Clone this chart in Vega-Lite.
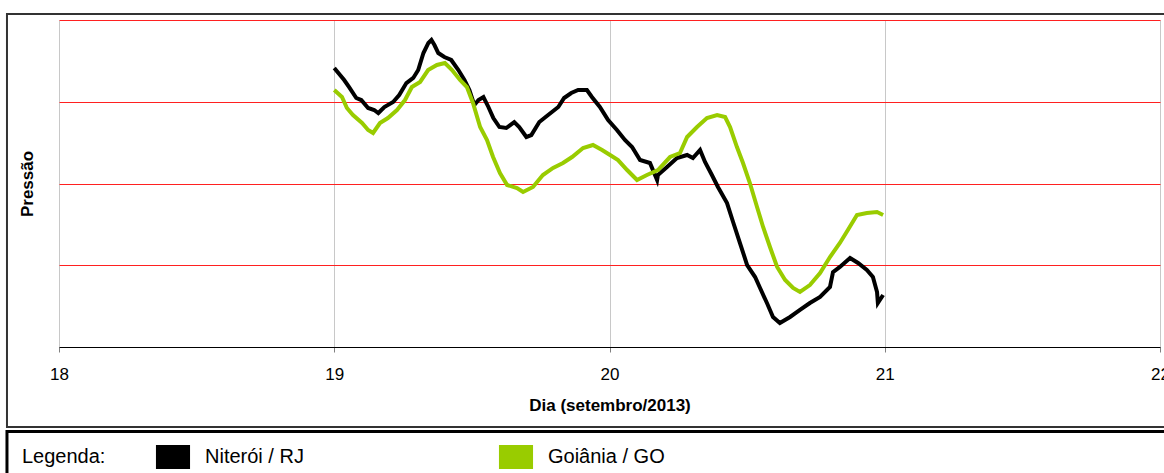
{
  "$schema": "https://vega.github.io/schema/vega-lite/v6.json",
  "width": 1101,
  "height": 327,
  "autosize": "none",
  "padding": {"left": 59, "top": 20, "right": 4, "bottom": 126},
  "background": "white",
  "config": {
    "view": {"stroke": null},
    "font": "Liberation Sans",
    "legend": {"titleFont": "Liberation Sans", "labelFont": "Liberation Sans"}
  },
  "datasets": {
    "moldura": [{"quadro": "grafico"}],
    "serie": [
      {"dia": 19.000, "pressao": 3.413, "cidade": "Niterói / RJ"},
      {"dia": 19.036, "pressao": 3.266, "cidade": "Niterói / RJ"},
      {"dia": 19.054, "pressao": 3.180, "cidade": "Niterói / RJ"},
      {"dia": 19.080, "pressao": 3.046, "cidade": "Niterói / RJ"},
      {"dia": 19.098, "pressao": 3.021, "cidade": "Niterói / RJ"},
      {"dia": 19.123, "pressao": 2.924, "cidade": "Niterói / RJ"},
      {"dia": 19.145, "pressao": 2.899, "cidade": "Niterói / RJ"},
      {"dia": 19.160, "pressao": 2.862, "cidade": "Niterói / RJ"},
      {"dia": 19.182, "pressao": 2.936, "cidade": "Niterói / RJ"},
      {"dia": 19.214, "pressao": 2.997, "cidade": "Niterói / RJ"},
      {"dia": 19.236, "pressao": 3.083, "cidade": "Niterói / RJ"},
      {"dia": 19.262, "pressao": 3.229, "cidade": "Niterói / RJ"},
      {"dia": 19.287, "pressao": 3.291, "cidade": "Niterói / RJ"},
      {"dia": 19.305, "pressao": 3.388, "cidade": "Niterói / RJ"},
      {"dia": 19.324, "pressao": 3.596, "cidade": "Niterói / RJ"},
      {"dia": 19.342, "pressao": 3.719, "cidade": "Niterói / RJ"},
      {"dia": 19.353, "pressao": 3.755, "cidade": "Niterói / RJ"},
      {"dia": 19.364, "pressao": 3.694, "cidade": "Niterói / RJ"},
      {"dia": 19.378, "pressao": 3.596, "cidade": "Niterói / RJ"},
      {"dia": 19.400, "pressao": 3.547, "cidade": "Niterói / RJ"},
      {"dia": 19.425, "pressao": 3.511, "cidade": "Niterói / RJ"},
      {"dia": 19.451, "pressao": 3.388, "cidade": "Niterói / RJ"},
      {"dia": 19.473, "pressao": 3.266, "cidade": "Niterói / RJ"},
      {"dia": 19.491, "pressao": 3.144, "cidade": "Niterói / RJ"},
      {"dia": 19.509, "pressao": 2.960, "cidade": "Niterói / RJ"},
      {"dia": 19.524, "pressao": 3.021, "cidade": "Niterói / RJ"},
      {"dia": 19.542, "pressao": 3.058, "cidade": "Niterói / RJ"},
      {"dia": 19.560, "pressao": 2.936, "cidade": "Niterói / RJ"},
      {"dia": 19.578, "pressao": 2.801, "cidade": "Niterói / RJ"},
      {"dia": 19.600, "pressao": 2.691, "cidade": "Niterói / RJ"},
      {"dia": 19.625, "pressao": 2.679, "cidade": "Niterói / RJ"},
      {"dia": 19.654, "pressao": 2.752, "cidade": "Niterói / RJ"},
      {"dia": 19.672, "pressao": 2.691, "cidade": "Niterói / RJ"},
      {"dia": 19.698, "pressao": 2.569, "cidade": "Niterói / RJ"},
      {"dia": 19.716, "pressao": 2.593, "cidade": "Niterói / RJ"},
      {"dia": 19.745, "pressao": 2.752, "cidade": "Niterói / RJ"},
      {"dia": 19.777, "pressao": 2.838, "cidade": "Niterói / RJ"},
      {"dia": 19.814, "pressao": 2.936, "cidade": "Niterói / RJ"},
      {"dia": 19.835, "pressao": 3.046, "cidade": "Niterói / RJ"},
      {"dia": 19.861, "pressao": 3.107, "cidade": "Niterói / RJ"},
      {"dia": 19.886, "pressao": 3.144, "cidade": "Niterói / RJ"},
      {"dia": 19.918, "pressao": 3.144, "cidade": "Niterói / RJ"},
      {"dia": 19.936, "pressao": 3.058, "cidade": "Niterói / RJ"},
      {"dia": 19.965, "pressao": 2.936, "cidade": "Niterói / RJ"},
      {"dia": 19.995, "pressao": 2.777, "cidade": "Niterói / RJ"},
      {"dia": 20.027, "pressao": 2.654, "cidade": "Niterói / RJ"},
      {"dia": 20.056, "pressao": 2.532, "cidade": "Niterói / RJ"},
      {"dia": 20.082, "pressao": 2.446, "cidade": "Niterói / RJ"},
      {"dia": 20.111, "pressao": 2.287, "cidade": "Niterói / RJ"},
      {"dia": 20.147, "pressao": 2.251, "cidade": "Niterói / RJ"},
      {"dia": 20.173, "pressao": 2.043, "cidade": "Niterói / RJ"},
      {"dia": 20.176, "pressao": 2.104, "cidade": "Niterói / RJ"},
      {"dia": 20.209, "pressao": 2.202, "cidade": "Niterói / RJ"},
      {"dia": 20.245, "pressao": 2.312, "cidade": "Niterói / RJ"},
      {"dia": 20.282, "pressao": 2.349, "cidade": "Niterói / RJ"},
      {"dia": 20.303, "pressao": 2.312, "cidade": "Niterói / RJ"},
      {"dia": 20.329, "pressao": 2.410, "cidade": "Niterói / RJ"},
      {"dia": 20.347, "pressao": 2.263, "cidade": "Niterói / RJ"},
      {"dia": 20.372, "pressao": 2.104, "cidade": "Niterói / RJ"},
      {"dia": 20.394, "pressao": 1.957, "cidade": "Niterói / RJ"},
      {"dia": 20.427, "pressao": 1.761, "cidade": "Niterói / RJ"},
      {"dia": 20.449, "pressao": 1.529, "cidade": "Niterói / RJ"},
      {"dia": 20.474, "pressao": 1.272, "cidade": "Niterói / RJ"},
      {"dia": 20.500, "pressao": 1.003, "cidade": "Niterói / RJ"},
      {"dia": 20.529, "pressao": 0.856, "cidade": "Niterói / RJ"},
      {"dia": 20.547, "pressao": 0.722, "cidade": "Niterói / RJ"},
      {"dia": 20.572, "pressao": 0.538, "cidade": "Niterói / RJ"},
      {"dia": 20.594, "pressao": 0.367, "cidade": "Niterói / RJ"},
      {"dia": 20.619, "pressao": 0.294, "cidade": "Niterói / RJ"},
      {"dia": 20.656, "pressao": 0.367, "cidade": "Niterói / RJ"},
      {"dia": 20.692, "pressao": 0.453, "cidade": "Niterói / RJ"},
      {"dia": 20.728, "pressao": 0.538, "cidade": "Niterói / RJ"},
      {"dia": 20.765, "pressao": 0.612, "cidade": "Niterói / RJ"},
      {"dia": 20.801, "pressao": 0.734, "cidade": "Niterói / RJ"},
      {"dia": 20.812, "pressao": 0.917, "cidade": "Niterói / RJ"},
      {"dia": 20.837, "pressao": 0.979, "cidade": "Niterói / RJ"},
      {"dia": 20.874, "pressao": 1.089, "cidade": "Niterói / RJ"},
      {"dia": 20.903, "pressao": 1.028, "cidade": "Niterói / RJ"},
      {"dia": 20.935, "pressao": 0.942, "cidade": "Niterói / RJ"},
      {"dia": 20.957, "pressao": 0.856, "cidade": "Niterói / RJ"},
      {"dia": 20.972, "pressao": 0.673, "cidade": "Niterói / RJ"},
      {"dia": 20.975, "pressao": 0.538, "cidade": "Niterói / RJ"},
      {"dia": 20.994, "pressao": 0.636, "cidade": "Niterói / RJ"},
      {"dia": 19.000, "pressao": 3.144, "cidade": "Goiânia / GO"},
      {"dia": 19.028, "pressao": 3.058, "cidade": "Goiânia / GO"},
      {"dia": 19.046, "pressao": 2.924, "cidade": "Goiânia / GO"},
      {"dia": 19.068, "pressao": 2.838, "cidade": "Goiânia / GO"},
      {"dia": 19.101, "pressao": 2.740, "cidade": "Goiânia / GO"},
      {"dia": 19.123, "pressao": 2.654, "cidade": "Goiânia / GO"},
      {"dia": 19.141, "pressao": 2.618, "cidade": "Goiânia / GO"},
      {"dia": 19.166, "pressao": 2.740, "cidade": "Goiânia / GO"},
      {"dia": 19.195, "pressao": 2.801, "cidade": "Goiânia / GO"},
      {"dia": 19.228, "pressao": 2.899, "cidade": "Goiânia / GO"},
      {"dia": 19.257, "pressao": 3.021, "cidade": "Goiânia / GO"},
      {"dia": 19.282, "pressao": 3.180, "cidade": "Goiânia / GO"},
      {"dia": 19.312, "pressao": 3.242, "cidade": "Goiânia / GO"},
      {"dia": 19.341, "pressao": 3.388, "cidade": "Goiânia / GO"},
      {"dia": 19.373, "pressao": 3.450, "cidade": "Goiânia / GO"},
      {"dia": 19.402, "pressao": 3.474, "cidade": "Goiânia / GO"},
      {"dia": 19.428, "pressao": 3.388, "cidade": "Goiânia / GO"},
      {"dia": 19.457, "pressao": 3.266, "cidade": "Goiânia / GO"},
      {"dia": 19.482, "pressao": 3.180, "cidade": "Goiânia / GO"},
      {"dia": 19.504, "pressao": 2.985, "cidade": "Goiânia / GO"},
      {"dia": 19.530, "pressao": 2.691, "cidade": "Goiânia / GO"},
      {"dia": 19.555, "pressao": 2.532, "cidade": "Goiânia / GO"},
      {"dia": 19.577, "pressao": 2.324, "cidade": "Goiânia / GO"},
      {"dia": 19.602, "pressao": 2.128, "cidade": "Goiânia / GO"},
      {"dia": 19.628, "pressao": 1.982, "cidade": "Goiânia / GO"},
      {"dia": 19.664, "pressao": 1.945, "cidade": "Goiânia / GO"},
      {"dia": 19.686, "pressao": 1.896, "cidade": "Goiânia / GO"},
      {"dia": 19.722, "pressao": 1.957, "cidade": "Goiânia / GO"},
      {"dia": 19.758, "pressao": 2.104, "cidade": "Goiânia / GO"},
      {"dia": 19.795, "pressao": 2.190, "cidade": "Goiânia / GO"},
      {"dia": 19.831, "pressao": 2.251, "cidade": "Goiânia / GO"},
      {"dia": 19.864, "pressao": 2.324, "cidade": "Goiânia / GO"},
      {"dia": 19.904, "pressao": 2.434, "cidade": "Goiânia / GO"},
      {"dia": 19.940, "pressao": 2.471, "cidade": "Goiânia / GO"},
      {"dia": 19.973, "pressao": 2.410, "cidade": "Goiânia / GO"},
      {"dia": 20.002, "pressao": 2.349, "cidade": "Goiânia / GO"},
      {"dia": 20.031, "pressao": 2.287, "cidade": "Goiânia / GO"},
      {"dia": 20.064, "pressao": 2.165, "cidade": "Goiânia / GO"},
      {"dia": 20.100, "pressao": 2.043, "cidade": "Goiânia / GO"},
      {"dia": 20.136, "pressao": 2.104, "cidade": "Goiânia / GO"},
      {"dia": 20.176, "pressao": 2.165, "cidade": "Goiânia / GO"},
      {"dia": 20.220, "pressao": 2.324, "cidade": "Goiânia / GO"},
      {"dia": 20.256, "pressao": 2.373, "cidade": "Goiânia / GO"},
      {"dia": 20.282, "pressao": 2.569, "cidade": "Goiânia / GO"},
      {"dia": 20.318, "pressao": 2.691, "cidade": "Goiânia / GO"},
      {"dia": 20.354, "pressao": 2.801, "cidade": "Goiânia / GO"},
      {"dia": 20.391, "pressao": 2.838, "cidade": "Goiânia / GO"},
      {"dia": 20.420, "pressao": 2.813, "cidade": "Goiânia / GO"},
      {"dia": 20.438, "pressao": 2.691, "cidade": "Goiânia / GO"},
      {"dia": 20.463, "pressao": 2.446, "cidade": "Goiânia / GO"},
      {"dia": 20.485, "pressao": 2.251, "cidade": "Goiânia / GO"},
      {"dia": 20.510, "pressao": 2.006, "cidade": "Goiânia / GO"},
      {"dia": 20.536, "pressao": 1.713, "cidade": "Goiânia / GO"},
      {"dia": 20.558, "pressao": 1.468, "cidade": "Goiânia / GO"},
      {"dia": 20.583, "pressao": 1.223, "cidade": "Goiânia / GO"},
      {"dia": 20.609, "pressao": 0.979, "cidade": "Goiânia / GO"},
      {"dia": 20.638, "pressao": 0.820, "cidade": "Goiânia / GO"},
      {"dia": 20.667, "pressao": 0.722, "cidade": "Goiânia / GO"},
      {"dia": 20.692, "pressao": 0.673, "cidade": "Goiânia / GO"},
      {"dia": 20.728, "pressao": 0.758, "cidade": "Goiânia / GO"},
      {"dia": 20.765, "pressao": 0.905, "cidade": "Goiânia / GO"},
      {"dia": 20.801, "pressao": 1.101, "cidade": "Goiânia / GO"},
      {"dia": 20.837, "pressao": 1.272, "cidade": "Goiânia / GO"},
      {"dia": 20.866, "pressao": 1.431, "cidade": "Goiânia / GO"},
      {"dia": 20.899, "pressao": 1.615, "cidade": "Goiânia / GO"},
      {"dia": 20.935, "pressao": 1.639, "cidade": "Goiânia / GO"},
      {"dia": 20.972, "pressao": 1.651, "cidade": "Goiânia / GO"},
      {"dia": 20.994, "pressao": 1.615, "cidade": "Goiânia / GO"}
    ]
  },
  "layer": [
    {
      "data": {"name": "moldura"},
      "mark": {"type": "rect", "fill": "transparent", "stroke": "#333333", "strokeWidth": 2, "clip": false},
      "encoding": {
        "x": {"datum": 17.811, "type": "quantitative"},
        "x2": {"datum": 22.06},
        "y": {"datum": 4.073, "type": "quantitative"},
        "y2": {"datum": -0.979}
      }
    },
    {
      "data": {"name": "moldura"},
      "mark": {"type": "rect", "fill": "transparent", "stroke": "#000000", "strokeWidth": 3, "clip": false},
      "encoding": {
        "x": {"datum": 17.811, "type": "quantitative"},
        "x2": {"datum": 22.06},
        "y": {"datum": -1.034, "type": "quantitative"},
        "y2": {"datum": -1.7}
      }
    },
    {
      "data": {"name": "serie"},
      "mark": {"type": "line", "strokeWidth": 4, "interpolate": "linear"},
      "encoding": {
        "x": {
          "field": "dia", "type": "quantitative",
          "scale": {"domain": [18, 22], "nice": false, "zero": false},
          "axis": {
            "values": [18, 19, 20, 21, 22], "format": "d",
            "grid": true, "gridColor": "#c8c8c8", "gridWidth": 1,
            "domainColor": "#000000", "domainWidth": 1.2,
            "tickColor": "#808080", "tickSize": 5,
            "labelFontSize": 17, "labelColor": "#000000", "labelPadding": 14, "labelFlush": false,
            "title": "Dia (setembro/2013)", "titleFontSize": 17, "titleFontWeight": "bold", "titleColor": "#000000", "titlePadding": 15
          }
        },
        "y": {
          "field": "pressao", "type": "quantitative",
          "scale": {"domain": [0, 4], "nice": false},
          "axis": {
            "values": [1, 2, 3, 4], "labels": false, "ticks": false, "domain": false,
            "grid": true, "gridColor": "#ff2020", "gridWidth": 1,
            "title": "Pressão", "titleFontSize": 17, "titleFontWeight": "bold", "titleColor": "#000000", "titlePadding": 23
          }
        },
        "color": {
          "field": "cidade", "type": "nominal",
          "scale": {"domain": ["Niterói / RJ", "Goiânia / GO"], "range": ["#000000", "#99cc00"]},
          "legend": {
            "title": "Legenda:", "orient": "none", "legendX": -37, "legendY": 425,
            "direction": "horizontal", "titleOrient": "left", "titlePadding": 55,
            "titleFontSize": 20, "titleFontWeight": "normal", "titleColor": "#000000",
            "labelFontSize": 20, "labelColor": "#000000", "labelOffset": 20,
            "symbolSize": 576, "symbolType": "M-1.42,-1H1.42V1H-1.42Z", "symbolStrokeWidth": 0,
            "columnPadding": 194, "padding": 0,
            "encode": {"symbols": {"update": {"fill": {"scale": "color", "field": "value"}, "fillOpacity": {"value": 1}, "strokeWidth": {"value": 0}}}}
          }
        }
      }
    }
  ],
  "resolve": {"scale": {"x": "shared", "y": "shared"}}
}
